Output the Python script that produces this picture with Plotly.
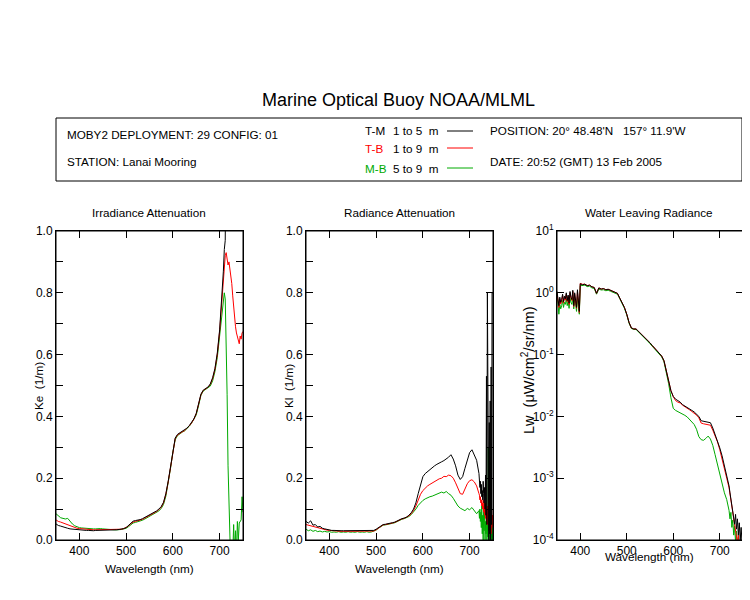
import plotly.graph_objects as go
from plotly.subplots import make_subplots

BLACK = "#000000"
RED = "#FF0000"
GREEN = "#00AA00"
FONT = "Liberation Sans, Arial, sans-serif"

# ---- Irradiance attenuation Ke (1/m) ----
wl_ke = list(range(350, 701, 5)) + list(range(702, 751, 2))
ke_tm = [0.052, 0.047, 0.045, 0.042, 0.040, 0.038, 0.036, 0.035, 0.034, 0.033,
         0.033, 0.032, 0.032, 0.031, 0.031, 0.030, 0.030, 0.031, 0.031, 0.032,
         0.032, 0.032, 0.032, 0.032, 0.032, 0.032, 0.033, 0.034, 0.035, 0.037,
         0.040, 0.046, 0.055, 0.061, 0.063, 0.064, 0.066, 0.069, 0.073, 0.077,
         0.081, 0.085, 0.089, 0.094, 0.100, 0.108, 0.122, 0.150, 0.190, 0.240,
         0.290, 0.330, 0.342, 0.347, 0.350, 0.355, 0.362, 0.370, 0.380, 0.392,
         0.410, 0.440, 0.472, 0.485, 0.490, 0.495, 0.505, 0.525, 0.555, 0.605,
         0.680,
         0.72, 0.76, 0.82, 0.87, 0.94, 0.97, 1.40, None, None, None,
         None, None, None, None, None, None, None, None, None, None,
         None, None, None, None, None]
ke_tb = [0.065, 0.060, 0.058, 0.055, 0.052, 0.048, 0.045, 0.042, 0.040, 0.038,
         0.037, 0.036, 0.035, 0.034, 0.034, 0.033, 0.033, 0.033, 0.033, 0.033,
         0.033, 0.033, 0.033, 0.033, 0.033, 0.033, 0.033, 0.034, 0.035, 0.037,
         0.040, 0.045, 0.053, 0.058, 0.060, 0.062, 0.064, 0.067, 0.071, 0.075,
         0.079, 0.083, 0.087, 0.092, 0.098, 0.106, 0.120, 0.148, 0.188, 0.238,
         0.288, 0.328, 0.340, 0.346, 0.350, 0.354, 0.361, 0.369, 0.379, 0.391,
         0.409, 0.438, 0.470, 0.484, 0.489, 0.494, 0.503, 0.522, 0.552, 0.600,
         0.675,
         0.72, 0.76, 0.81, 0.86, 0.90, 0.92, 0.93, 0.91, 0.89, 0.90,
         0.88, 0.86, 0.83, 0.79, 0.75, 0.72, 0.69, 0.67, 0.655, 0.64,
         0.635, 0.66, 0.65, 0.67, 0.675]
ke_mb = [0.085, 0.078, 0.072, 0.070, 0.068, 0.070, 0.060, 0.052, 0.046, 0.042,
         0.040, 0.039, 0.038, 0.037, 0.037, 0.036, 0.036, 0.036, 0.037, 0.037,
         0.036, 0.035, 0.034, 0.034, 0.033, 0.033, 0.033, 0.033, 0.034, 0.036,
         0.038, 0.043, 0.050, 0.055, 0.057, 0.059, 0.061, 0.064, 0.068, 0.072,
         0.076, 0.080, 0.084, 0.089, 0.094, 0.102, 0.115, 0.142, 0.182, 0.232,
         0.285, 0.325, 0.338, 0.345, 0.349, 0.353, 0.360, 0.368, 0.378, 0.390,
         0.405, 0.435, 0.468, 0.482, 0.487, 0.491, 0.498, 0.515, 0.545, 0.590,
         0.660,
         0.70, 0.73, 0.76, 0.79, 0.80, 0.78, 0.65, 0.47, 0.24, 0.0,
         -0.1, -0.1, -0.1, -0.05, 0.05, -0.05, 0.03, -0.05, 0.06, 0.0,
         0.055, 0.06, 0.065, 0.14, 0.09]

# ---- Radiance attenuation Kl (1/m) ----
wl_kl = list(range(350, 721, 5)) + list(range(721, 751))
kl_tm = [0.060, 0.055, 0.062, 0.048, 0.050, 0.042, 0.044, 0.038, 0.036, 0.034,
         0.033, 0.031, 0.031, 0.030, 0.030, 0.030, 0.030, 0.030, 0.030, 0.030,
         0.030, 0.030, 0.030, 0.030, 0.030, 0.030, 0.030, 0.030, 0.030, 0.031,
         0.035, 0.040, 0.046, 0.050, 0.051, 0.052, 0.054, 0.056, 0.058, 0.062,
         0.066, 0.069, 0.071, 0.074, 0.080, 0.088, 0.100, 0.120, 0.150, 0.180,
         0.205, 0.215, 0.222, 0.228, 0.236, 0.240, 0.245, 0.250, 0.253, 0.257,
         0.262, 0.268, 0.276, 0.262, 0.240, 0.210, 0.196, 0.205, 0.232, 0.262,
         0.283, 0.292, 0.272, 0.258, 0.215,
         0.20, 0.17, 0.19, 0.15, 0.18, 0.14, 0.16, 0.13, 0.19, 0.15,
         0.12, 0.17, 0.10, 0.21, 0.08, 0.53, 0.05, 0.80, 0.42, 0.20,
         0.0, 0.38, 0.02, 0.45, 0.0, 0.56, 0.05, 0.80, 0.80, 0.80]
kl_tb = [0.050, 0.048, 0.045, 0.042, 0.042, 0.039, 0.038, 0.036, 0.034, 0.032,
         0.031, 0.030, 0.029, 0.028, 0.028, 0.028, 0.028, 0.028, 0.028, 0.028,
         0.028, 0.028, 0.028, 0.028, 0.028, 0.028, 0.028, 0.028, 0.028, 0.029,
         0.033, 0.039, 0.045, 0.049, 0.050, 0.051, 0.053, 0.055, 0.057, 0.061,
         0.065, 0.068, 0.070, 0.073, 0.078, 0.085, 0.095, 0.110, 0.130, 0.148,
         0.160, 0.168, 0.175, 0.180, 0.185, 0.190, 0.195, 0.198, 0.200, 0.206,
         0.205, 0.210, 0.208, 0.200, 0.185, 0.165, 0.150, 0.148, 0.165, 0.182,
         0.192, 0.195, 0.188, 0.175, 0.150,
         0.145, 0.13, 0.14, 0.12, 0.13, 0.11, 0.12, 0.10, 0.13, 0.09,
         0.11, 0.08, 0.12, 0.07, 0.10, 0.06, 0.09, 0.05, 0.11, 0.07,
         0.15, 0.04, 0.12, 0.03, 0.09, 0.02, 0.10, 0.04, 0.08, 0.06]
kl_mb = [0.035, 0.030, 0.033, 0.028, 0.031, 0.027, 0.029, 0.026, 0.028, 0.026,
         0.027, 0.025, 0.026, 0.025, 0.027, 0.025, 0.026, 0.025, 0.027, 0.025,
         0.026, 0.025, 0.027, 0.025, 0.026, 0.025, 0.027, 0.025, 0.026, 0.028,
         0.032, 0.038, 0.044, 0.048, 0.049, 0.050, 0.052, 0.054, 0.056, 0.060,
         0.064, 0.067, 0.069, 0.072, 0.076, 0.082, 0.090, 0.100, 0.112, 0.122,
         0.128, 0.133, 0.137, 0.140, 0.142, 0.145, 0.148, 0.150, 0.155, 0.152,
         0.157, 0.150, 0.145, 0.135, 0.120, 0.110, 0.103, 0.098, 0.095, 0.102,
         0.098, 0.105, 0.095, 0.085, 0.095,
         0.07, 0.10, 0.06, 0.09, 0.04, 0.11, 0.02, 0.08, 0.0, 0.10,
         0.03, 0.12, 0.0, 0.06, 0.02, 0.09, 0.0, 0.05, 0.01, 0.30,
         0.03, 0.12, 0.0, 0.25, 0.02, 0.08, 0.0, 0.06, 0.0, 0.05]

# ---- Water leaving radiance Lw (uW/cm^2/sr/nm) ----
wl_lw = list(range(350, 401, 2)) + list(range(405, 721, 5)) + list(range(722, 751, 2))
lw_tm = [1.05, 0.75, 0.62, 0.85, 0.70, 0.78, 0.95, 0.72, 0.88, 0.80,
         1.00, 0.75, 0.92, 0.68, 1.05, 0.85, 0.78, 1.10, 0.62, 1.00,
         0.82, 0.58, 1.12, 0.70, 0.50, 1.40,
         1.35, 1.38, 1.30, 1.33, 1.25, 1.22, 0.98, 1.20, 1.15, 1.17,
         1.12, 1.14, 1.10, 1.06, 1.04, 0.98, 0.82, 0.70, 0.58, 0.45,
         0.33, 0.27, 0.26, 0.26, 0.24, 0.22, 0.20, 0.185, 0.17, 0.155,
         0.14, 0.128, 0.117, 0.106, 0.095, 0.080, 0.055, 0.038, 0.026, 0.021,
         0.019, 0.018, 0.017, 0.0155, 0.0148, 0.0140, 0.0133, 0.0125, 0.0118, 0.0110,
         0.0100, 0.0085, 0.0083, 0.0082, 0.0081, 0.0079, 0.0065, 0.0052, 0.0041, 0.0031,
         0.0023, 0.0016, 0.0011, 0.00075,
         0.00058, 0.00045, 0.00038, 0.00028, 0.00024, 0.00018, 0.00026, 0.00015,
         0.00022, 0.00012, 0.00019, 0.00010, 0.00016, 0.00009, 0.00018]
lw_tb = [1.00, 0.70, 0.58, 0.80, 0.66, 0.74, 0.90, 0.68, 0.84, 0.76,
         0.95, 0.72, 0.88, 0.65, 1.00, 0.82, 0.75, 1.05, 0.60, 0.95,
         0.78, 0.56, 1.05, 0.66, 0.48, 1.42,
         1.37, 1.38, 1.31, 1.33, 1.25, 1.22, 0.98, 1.20, 1.15, 1.17,
         1.12, 1.14, 1.10, 1.06, 1.04, 0.98, 0.82, 0.70, 0.58, 0.45,
         0.33, 0.27, 0.26, 0.26, 0.24, 0.22, 0.20, 0.185, 0.17, 0.155,
         0.14, 0.128, 0.117, 0.106, 0.095, 0.080, 0.055, 0.038, 0.026, 0.021,
         0.018, 0.017, 0.0165, 0.0152, 0.0145, 0.0136, 0.0128, 0.0120, 0.0113, 0.0105,
         0.0095, 0.0078, 0.0076, 0.0075, 0.0074, 0.0072, 0.0060, 0.0049, 0.0039, 0.0029,
         0.0021, 0.0015, 0.0010, 0.0007,
         0.00055, 0.00042, 0.00034, 0.00026, 0.00021, 0.00016, 0.00013, 0.00011,
         0.00009, 0.00012, 0.00008, 0.00010, 0.00007, 0.00009, 0.00006]
lw_mb = [1.00, 0.60, 0.45, 0.65, 0.55, 0.62, 0.75, 0.58, 0.70, 0.65,
         0.80, 0.62, 0.74, 0.56, 0.82, 0.70, 0.65, 0.85, 0.55, 0.78,
         0.68, 0.50, 0.85, 0.60, 0.45, 1.30,
         1.30, 1.33, 1.26, 1.28, 1.20, 1.18, 0.95, 1.15, 1.11, 1.12,
         1.08, 1.10, 1.06, 1.02, 1.00, 0.95, 0.80, 0.68, 0.56, 0.44,
         0.32, 0.265, 0.255, 0.255, 0.235, 0.215, 0.195, 0.18, 0.165, 0.15,
         0.137, 0.125, 0.114, 0.103, 0.092, 0.077, 0.052, 0.034, 0.020, 0.0135,
         0.0125, 0.0120, 0.0115, 0.0110, 0.0104, 0.0098, 0.0090, 0.0082, 0.0074, 0.0062,
         0.0047, 0.0042, 0.0041, 0.0044, 0.0048, 0.0043, 0.0034, 0.0024, 0.0017, 0.0012,
         0.00078, 0.00058, 0.00045, 0.00030,
         0.00022, 0.00028, 0.00016, 0.00021, 0.00012, 0.00017, 0.00009, 0.00014,
         0.00007, 0.00011, 0.00006, 0.00008, 0.00005, 0.00007, 0.00005]

lin_ticks = [0.0, 0.1, 0.2, 0.3, 0.4, 0.5, 0.6, 0.7, 0.8, 0.9, 1.0]
lin_labels = ["0.0", "", "0.2", "", "0.4", "", "0.6", "", "0.8", "", "1.0"]
log_ticks = [1e-4, 1e-3, 1e-2, 1e-1, 1, 10]
log_labels = ["10<sup>-4</sup>", "10<sup>-3</sup>", "10<sup>-2</sup>",
              "10<sup>-1</sup>", "10<sup>0</sup>", "10<sup>1</sup>"]
wl_ticks = [400, 500, 600, 700]

fig = make_subplots(rows=1, cols=3)

panels = [(wl_ke, [ke_tm, ke_tb, ke_mb]),
          (wl_kl, [kl_tm, kl_tb, kl_mb]),
          (wl_lw, [lw_tm, lw_tb, lw_mb])]
# draw green first, black last so black sits on top
for col, (wl, series) in enumerate(panels, start=1):
    for ys, color in zip(series[::-1], [GREEN, RED, BLACK]):
        fig.add_trace(go.Scatter(x=wl, y=ys, mode="lines",
                                 line=dict(color=color, width=1),
                                 showlegend=False), row=1, col=col)

# the page body has an 8px margin, so the figure is a bit smaller than the window
# (no scrollbars) and every position below is given in window pixels
OFF = 8
W, H = 738, 572


def px(x):
    return (x - OFF) / W


def py(y):
    return 1 - (y - OFF) / H


domains = [(56, 243), (306, 493), (557, 743)]
axis_common = dict(showline=True, linecolor="black", linewidth=1, mirror="ticks",
                   ticks="inside", ticklen=7, tickcolor="black", showgrid=False,
                   zeroline=False, automargin=False,
                   tickfont=dict(size=12, color="black", family=FONT))
for i, (x0, x1) in enumerate(domains, start=1):
    fig.update_xaxes(domain=[px(x0), px(x1)], range=[350, 750], tickvals=wl_ticks,
                     **axis_common, row=1, col=i)
    fig.update_yaxes(domain=[py(540), py(231)], **axis_common, row=1, col=i)

fig.update_yaxes(range=[0, 1], tickvals=lin_ticks, ticktext=lin_labels, row=1, col=1)
fig.update_yaxes(range=[0, 1], tickvals=lin_ticks, ticktext=lin_labels, row=1, col=2)
fig.update_yaxes(type="log", range=[-4, 1], tickvals=log_ticks, ticktext=log_labels,
                 row=1, col=3)

ann = []


def text(x, y, s, size=11.7, color="black", anchor="left", angle=0):
    ann.append(dict(x=px(x), y=py(y), xref="paper", yref="paper", text=s,
                    showarrow=False, xanchor=anchor, yanchor="middle",
                    textangle=angle, font=dict(size=size, color=color, family=FONT)))


text(398, 100, "Marine Optical Buoy NOAA/MLML", size=18, anchor="center")
text(65, 134, "MOBY2 DEPLOYMENT: 29 CONFIG: 01")
text(65, 162, "STATION: Lanai Mooring")
text(363, 131, "T-M")
text(363, 149, "T-B", color=RED)
text(363, 168, "M-B", color=GREEN)
text(391, 131, "1 to 5  m")
text(391, 149, "1 to 9  m")
text(391, 168, "5 to 9  m")
text(488, 131, "POSITION: 20\u00b0 48.48'N   157\u00b0 11.9'W")
text(488, 161, "DATE: 20:52 (GMT) 13 Feb 2005")

text(149, 212, "Irradiance Attenuation", anchor="center")
text(399, 212, "Radiance Attenuation", anchor="center")
text(649, 212, "Water Leaving Radiance", anchor="center")
text(149, 568, "Wavelength (nm)", anchor="center")
text(399, 568, "Wavelength (nm)", anchor="center")
text(649, 556, "Wavelength (nm)", anchor="center")
text(38, 386, "Ke  (1/m)", anchor="center", angle=-90)
text(288, 386, "Kl  (1/m)", anchor="center", angle=-90)
text(528, 370, "Lw  (\u03bcW/cm<sup>2</sup>/sr/nm)", size=14.5, anchor="center", angle=-90)

shapes = [dict(type="rect", xref="paper", yref="paper", x0=px(56), x1=px(742),
               y0=py(181), y1=py(118), line=dict(color="black", width=1))]
for y, color in [(131, BLACK), (148, RED), (168, GREEN)]:
    shapes.append(dict(type="line", xref="paper", yref="paper", x0=px(447), x1=px(473),
                       y0=py(y), y1=py(y), line=dict(color=color, width=1)))
# explicit frame round each panel
for i in range(1, 4):
    sfx = "" if i == 1 else str(i)
    shapes.append(dict(type="rect", xref="x%s domain" % sfx, yref="y%s domain" % sfx,
                       x0=0, x1=1, y0=0, y1=1, layer="above",
                       line=dict(color="black", width=1)))

fig.update_layout(width=W, height=H, margin=dict(l=0, r=0, t=0, b=0),
                  paper_bgcolor="white", plot_bgcolor="white",
                  font=dict(family=FONT, color="black"),
                  annotations=ann, shapes=shapes)

fig.write_html("out.html")
